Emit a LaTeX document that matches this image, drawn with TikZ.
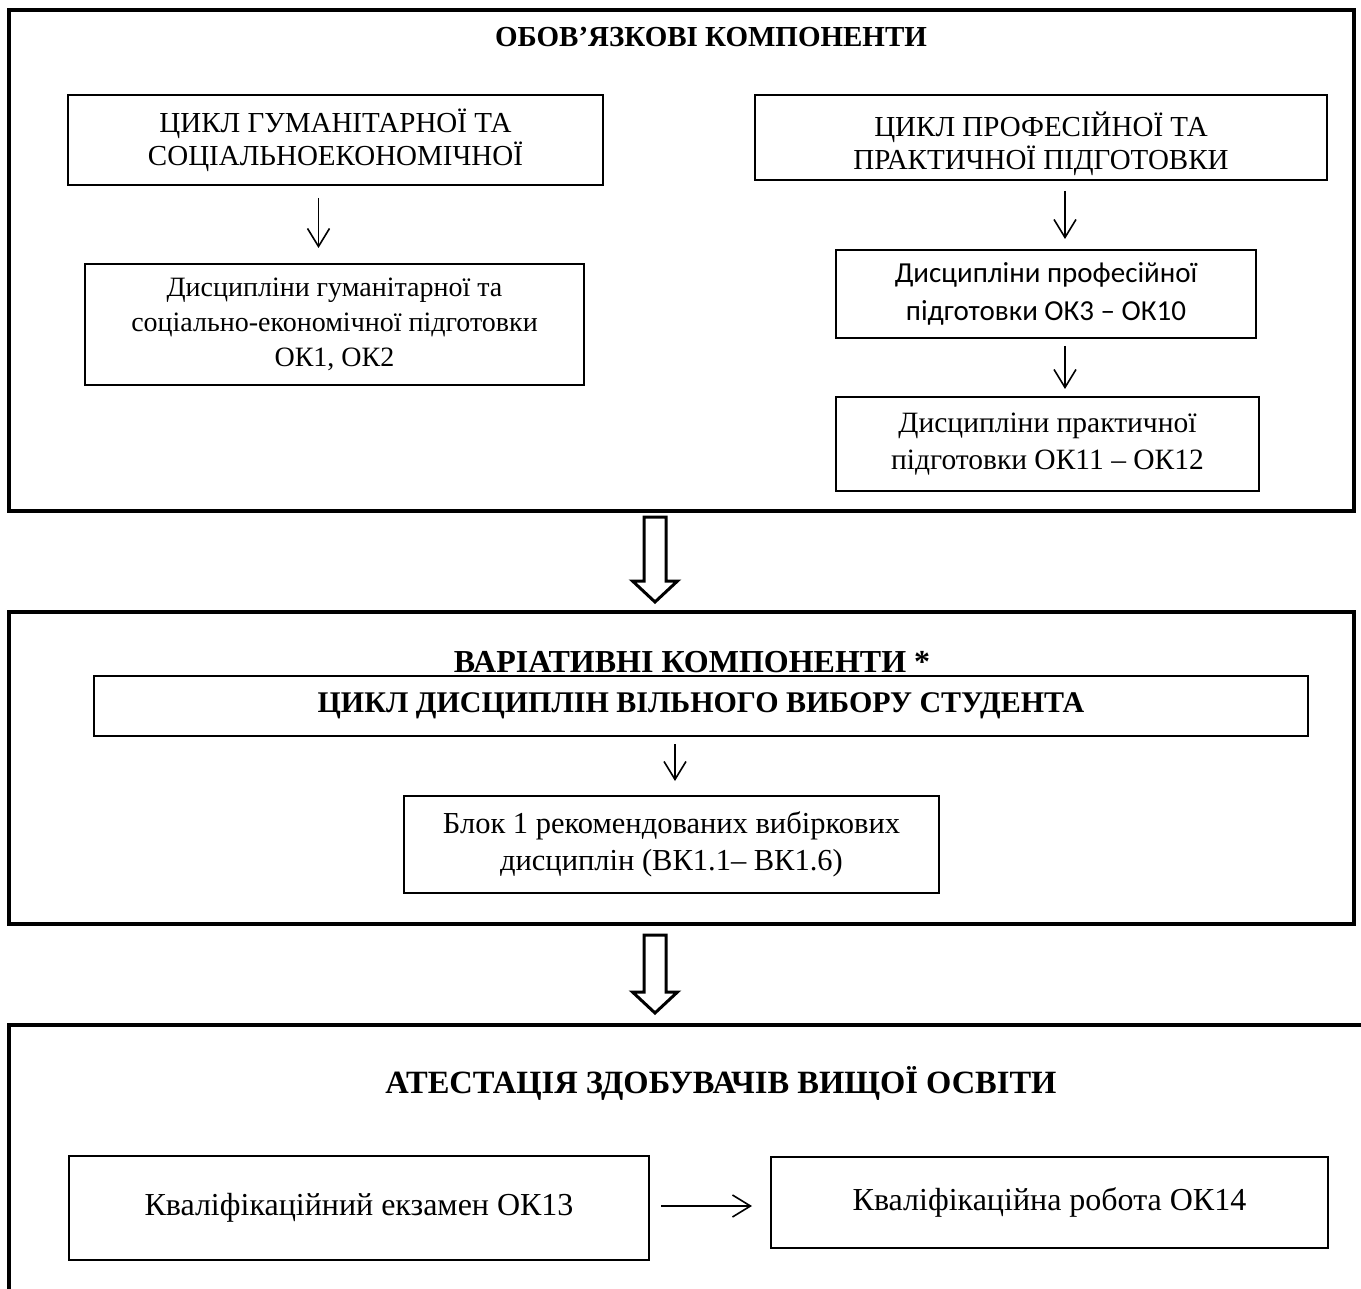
\documentclass[tikz,border=0pt]{standalone}
\usepackage{fontspec}
\setmainfont{Liberation Serif}
\newfontfamily\calib{Carlito}
\usetikzlibrary{arrows.meta}
\begin{document}
\begin{tikzpicture}[x=1pt,y=-1pt,
  box/.style={draw, line width=2pt, align=center, inner sep=0pt, font=\fontsize{29}{33}\selectfont},
  boxtext/.style={align=center, inner sep=0pt, font=\fontsize{29}{33}\selectfont},
  outerbox/.style={draw, line width=4pt, inner sep=0pt},
  titletext/.style={font=\fontsize{29}{32}\selectfont\bfseries, inner sep=0pt},
  arr/.style={-{Straight Barb[length=18pt,width=22pt,line width=1.6pt]}, line width=1.6pt},
  bigarr/.style={draw, line width=3pt, fill=white, line join=miter}
]
\useasboundingbox (0,0) rectangle (1361,1289);
\fill[white] (0,0) rectangle (1361,1289);

% ---------- block 1 ----------
\node[outerbox, minimum width=1345pt, minimum height=501pt] (O1) at (681.5,260.5) {};
\node[titletext] (T1) at (711,37) {ОБОВ’ЯЗКОВІ КОМПОНЕНТИ};

\node[box, minimum width=535pt, minimum height=90pt] (A) at (335.5,140)
  {ЦИКЛ ГУМАНІТАРНОЇ ТА\\СОЦІАЛЬНОЕКОНОМІЧНОЇ};
\node[box, minimum width=499pt, minimum height=121pt, font=\fontsize{28}{35}\selectfont] (B) at (334.5,324.5)
  {Дисципліни гуманітарної та\\соціально-економічної підготовки\\ОК1, ОК2};
\node[box, minimum width=572pt, minimum height=85pt] (C) at (1041,137.5) {};
\node[boxtext] (Ct) at ([yshift=-6pt]C.center)
  {ЦИКЛ ПРОФЕСІЙНОЇ ТА\\ПРАКТИЧНОЇ ПІДГОТОВКИ};
\node[box, minimum width=420pt, minimum height=88pt, font=\calib\fontsize{29}{38}\selectfont] (D) at (1046,294)
  {Дисципліни професійної\\підготовки ОК3 – ОК10};
\node[box, minimum width=423pt, minimum height=94pt, font=\fontsize{29.5}{37}\selectfont] (E) at (1047.5,444)
  {Дисципліни практичної\\підготовки ОК11 – ОК12};

\draw[arr, shorten <=12pt, shorten >=15pt] ([xshift=-17pt]A.south) -- ([xshift=-16pt]B.north);
\draw[arr, shorten <=10pt, shorten >=10pt] ([xshift=24pt]C.south) -- ([xshift=19pt]D.north);
\draw[arr, shorten <=7pt, shorten >=7pt] ([xshift=19pt]D.south) -- ([xshift=17.5pt]E.north);

% ---------- block arrow 1 ----------
\coordinate (BA1) at (655,517);
\draw[bigarr] (BA1) ++(-11,0) -- ++(0,64) -- ++(-11.5,0) -- ++(22.5,21) -- ++(22.5,-21) -- ++(-11.5,0) -- ++(0,-64) -- cycle;

% ---------- block 2 ----------
\node[outerbox, minimum width=1345pt, minimum height=312pt] (O2) at (681.5,768) {};
\node[titletext, font=\fontsize{32}{34}\selectfont\bfseries] (T2) at (692,662) {ВАРІАТИВНІ КОМПОНЕНТИ *};
\node[box, minimum width=1214pt, minimum height=60pt, font=\fontsize{30}{32}\selectfont\bfseries] (F) at (701,706)
  {ЦИКЛ ДИСЦИПЛІН ВІЛЬНОГО ВИБОРУ СТУДЕНТА};
\node[box, minimum width=535pt, minimum height=97pt, font=\fontsize{30.5}{37}\selectfont] (G) at (671.5,844.5)
  {Блок 1 рекомендованих вибіркових\\дисциплін (ВК1.1– ВК1.6)};
\draw[arr, shorten <=7pt, shorten >=14pt] ([xshift=-26pt]F.south) -- ([xshift=3.5pt]G.north);

% ---------- block arrow 2 ----------
\coordinate (BA2) at (655,935);
\draw[bigarr] (BA2) ++(-11,0) -- ++(0,57) -- ++(-11.5,0) -- ++(22.5,21) -- ++(22.5,-21) -- ++(-11.5,0) -- ++(0,-57) -- cycle;

% ---------- block 3 ----------
\coordinate (O3tr) at (1380,1025);
\coordinate (O3bl) at (9,1300);
\draw[line width=4pt] (O3tr) -- (O3tr -| O3bl) -- (O3bl);
\node[titletext, font=\fontsize{32.5}{34}\selectfont\bfseries] (T3) at (721,1083) {АТЕСТАЦІЯ ЗДОБУВАЧІВ ВИЩОЇ ОСВІТИ};
\node[box, minimum width=580pt, minimum height=104pt, font=\fontsize{32}{36}\selectfont] (H) at (359,1208)
  {Кваліфікаційний екзамен ОК13};
\node[box, minimum width=557pt, minimum height=91pt, font=\fontsize{32}{36}\selectfont] (I) at (1049.5,1202.5)
  {Кваліфікаційна робота ОК14};
\draw[arr, line width=2pt, shorten <=11pt, shorten >=18pt] ([yshift=2pt]H.east) -- ([yshift=2pt]H.east -| I.west);
\end{tikzpicture}
\end{document}
